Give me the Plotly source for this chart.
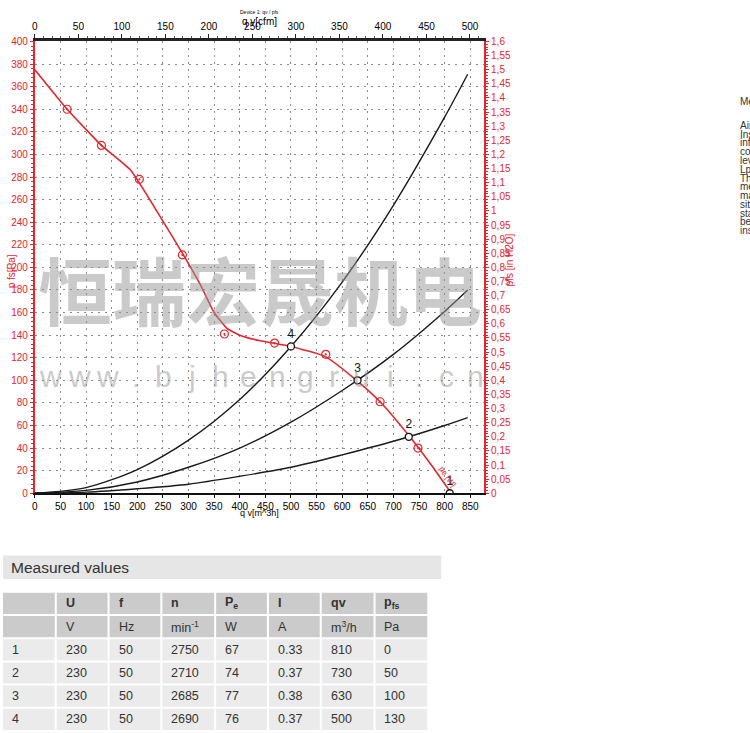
import plotly.graph_objects as go

# ---------------- data ----------------
# Fan characteristic curve: air flow qv [m³/h] vs. static pressure pfs [Pa]
fan_qv = [0, 63, 130, 187, 250, 290, 325, 350, 375, 400, 440, 500, 567, 628, 674, 732, 774, 813]
fan_pfs = [375, 340, 308, 286, 241, 211, 183, 160, 146, 140, 135, 130, 121, 100, 81, 50, 25, 0]

# Measured points along the fan curve
meas_qv = [63, 130, 204, 288, 370, 468, 568, 674, 748]
meas_pfs = [340, 308, 278, 211, 141, 133, 123, 81, 40]

# System resistance curves through operating points 4, 3 and 2
sys_qv = [0, 100, 200, 300, 400, 500, 600, 700, 800, 845]
sys4_pfs = [0, 5, 21, 47, 83, 130, 187, 255, 333, 371]
sys3_pfs = [0, 2.5, 10, 23, 40, 63, 91, 123, 161, 180]
sys2_pfs = [0, 1, 4, 8, 15, 23, 34, 46, 60, 67]

# Operating points (table rows 1..4)
op_labels = ["1", "2", "3", "4"]
op_U = ["230", "230", "230", "230"]
op_f = ["50", "50", "50", "50"]
op_n = ["2750", "2710", "2685", "2690"]
op_Pe = ["67", "74", "77", "76"]
op_I = ["0.33", "0.37", "0.38", "0.37"]
op_qv = [810, 730, 630, 500]
op_pfs = [0, 50, 100, 130]

# Table headings
tbl_head = ["", "U", "f", "n", "P<sub>e</sub>", "I", "qv", "p<sub>fs</sub>"]
tbl_units = ["", "V", "Hz", "min<sup>-1</sup>", "W", "A", "m<sup>3</sup>/h", "Pa"]

# Axis limits
QV_MAX = 877            # m³/h
CFM_PER_M3H = 1 / 1.699
PFS_MAX = 400           # Pa
INWG_MAX = 1.6

# side-note text (page column on the right)
note_lines = ["Air performance measured as per ISO 5801",
              "Installation category A",
              "information given applies only under",
              "conditions of the measurement",
              "level Lw / sound pressure",
              "LpA measured at 1 m",
              "The values given are",
              "measured at the intake side",
              "may differ in the installed",
              "situation",
              "standard values may",
              "be exceeded depending on",
              "installation"]

RED = "#e4262c"
W, H = 750, 733
BASE_FONT = "Liberation Sans, Arial, sans-serif"


def xp(px):
    return px / W


def yp(py):
    return 1 - py / H


fig = go.Figure()

# system curves
for ys in (sys4_pfs, sys3_pfs, sys2_pfs):
    fig.add_trace(go.Scatter(x=sys_qv, y=ys, mode="lines",
                             line=dict(color="#1a1a1a", width=1.4, shape="spline", smoothing=0.8),
                             hoverinfo="skip"))

# fan curve
fig.add_trace(go.Scatter(x=fan_qv, y=fan_pfs, mode="lines",
                         line=dict(color=RED, width=1.6, shape="spline", smoothing=0.45)))
fig.add_trace(go.Scatter(x=meas_qv, y=meas_pfs, mode="markers",
                         marker=dict(symbol="circle-open-dot", size=8, color=RED,
                                     line=dict(width=1.2, color=RED))))

# operating points
fig.add_trace(go.Scatter(x=op_qv, y=op_pfs, mode="markers+text",
                         text=op_labels, textposition="top center",
                         textfont=dict(size=12, color="#111"),
                         marker=dict(symbol="circle", size=7, color="white",
                                     line=dict(width=1.3, color="#111"))))

# secondary axes (cfm on top, in. wg on the right)
fig.add_trace(go.Scatter(x=[0, QV_MAX * CFM_PER_M3H], y=[0, INWG_MAX], xaxis="x2", yaxis="y2",
                         mode="markers", marker=dict(opacity=0), hoverinfo="skip"))

grid = dict(showgrid=True, gridcolor="#8a8a8a", gridwidth=1, griddash="2px,5px")

fig.update_layout(
    width=W, height=H, autosize=False,
    margin=dict(l=0, r=0, t=0, b=0),
    paper_bgcolor="white", plot_bgcolor="white",
    showlegend=False, separators=", ",
    font=dict(family=BASE_FONT, size=10, color="black"),
    xaxis=dict(domain=[xp(32), xp(483)], range=[0, QV_MAX], tick0=0, dtick=50,
               showline=True, linecolor="#111", linewidth=1.5, zeroline=False,
               ticks="outside", ticklen=3, tickcolor="#111", anchor="y", **grid),
    xaxis2=dict(overlaying="x", side="top", anchor="y",
                range=[0, QV_MAX * CFM_PER_M3H], tick0=0, dtick=50,
                showgrid=False, zeroline=False, showline=True, linecolor="#222", linewidth=3,
                ticks="outside", ticklen=4, tickcolor="#222",
                minor=dict(ticks="outside", dtick=10, ticklen=2, tickcolor="#555")),
    yaxis=dict(domain=[yp(495), yp(37)], range=[0, PFS_MAX], tick0=0, dtick=20,
               showline=True, linecolor=RED, linewidth=2, zeroline=False,
               ticks="outside", ticklen=3, tickcolor=RED, tickfont=dict(color=RED),
               minor=dict(ticks="outside", dtick=4, ticklen=2, tickcolor=RED),
               anchor="x", **grid),
    yaxis2=dict(overlaying="y", side="right", anchor="x", range=[0, INWG_MAX],
                tick0=0, dtick=0.05, showgrid=False, zeroline=False,
                showline=True, linecolor=RED, linewidth=2,
                ticks="outside", ticklen=3, tickcolor=RED, tickfont=dict(color=RED),
                minor=dict(ticks="outside", dtick=0.01, ticklen=2, tickcolor=RED)),
)

ann = []
shapes = []
# axis titles
ann.append(dict(x=xp(258), y=yp(7), text="Device 1: qv / pfs", font=dict(size=5)))
ann.append(dict(x=xp(258), y=yp(17), text="q v[cfm]", font=dict(size=10)))
ann.append(dict(x=xp(258), y=yp(515), text="q v[m^3h]", font=dict(size=9)))
ann.append(dict(x=xp(8), y=yp(270), text="p fs[Pa]", textangle=-90, font=dict(size=10, color=RED)))
ann.append(dict(x=xp(509), y=yp(258), text="pfs [in H2O]", textangle=-90,
                font=dict(size=10, color=RED)))
# curve label
ann.append(dict(x=xp(446), y=yp(478), text="pe [W]", textangle=55, font=dict(size=8, color=RED)))

# watermark
WM = "rgba(150,150,150,0.5)"
ann.append(dict(x=xp(258), y=yp(286), text="恒瑞宏晟机电",
                font=dict(family="Noto Sans CJK SC", size=74, weight=700, color=WM)))
for i, ch in enumerate("www.bjhengrui.cn"):
    ann.append(dict(x=xp(48 + i * 28.4), y=yp(377), text=ch,
                    font=dict(size=30, color=WM)))

# section heading for the table
shapes.append(dict(type="rect", x0=0, x1=xp(440), y0=yp(582), y1=yp(558),
                   fillcolor="#e6e6e6", line=dict(width=0), layer="below"))
ann.append(dict(x=xp(6), y=yp(570), text="Measured values", xanchor="left",
                font=dict(size=15.5, color="#333")))

# measured values table
col_edges = [0, 52, 105, 158, 212, 265, 318, 372, 426]
ROW_TOP, ROW_PITCH, ROW_H = 596, 23.5, 21.5
DARK, LIGHT = "#cbcbcb", "#ebebeb"
body = [op_labels, op_U, op_f, op_n, op_Pe, op_I,
        [str(v) for v in op_qv], [str(v) for v in op_pfs]]
rows = [tbl_head, tbl_units] + [[col[r] for col in body] for r in range(len(op_labels))]
for r, row in enumerate(rows):
    top = ROW_TOP + r * ROW_PITCH
    for c, txt in enumerate(row):
        x0 = col_edges[c] + (0 if c == 0 else 2)
        shapes.append(dict(type="rect", x0=xp(x0), x1=xp(col_edges[c + 1]),
                           y0=yp(top + ROW_H), y1=yp(top),
                           fillcolor=DARK if r < 2 else LIGHT, line=dict(width=0),
                           layer="below"))
        if txt:
            ann.append(dict(x=xp(x0 + 7), y=yp(top + ROW_H / 2), text=("<b>%s</b>" % txt) if r == 0 else txt,
                            xanchor="left", font=dict(size=12.5, color="#333")))

# note column at the right edge
ann.append(dict(x=xp(738), y=yp(98), text="Measurement", xanchor="left",
                font=dict(size=10, color="#333")))
for i, line in enumerate(note_lines):
    ann.append(dict(x=xp(738), y=yp(122 + i * 8.9), text=line, xanchor="left",
                    font=dict(size=10, color="#333")))

for a in ann:
    a.setdefault("xref", "paper")
    a.setdefault("yref", "paper")
    a.setdefault("showarrow", False)
    a.setdefault("xanchor", "center")
    a.setdefault("yanchor", "middle")
for s in shapes:
    s["xref"] = "paper"
    s["yref"] = "paper"
fig.update_layout(annotations=ann, shapes=shapes)

fig.write_html("out.html")
